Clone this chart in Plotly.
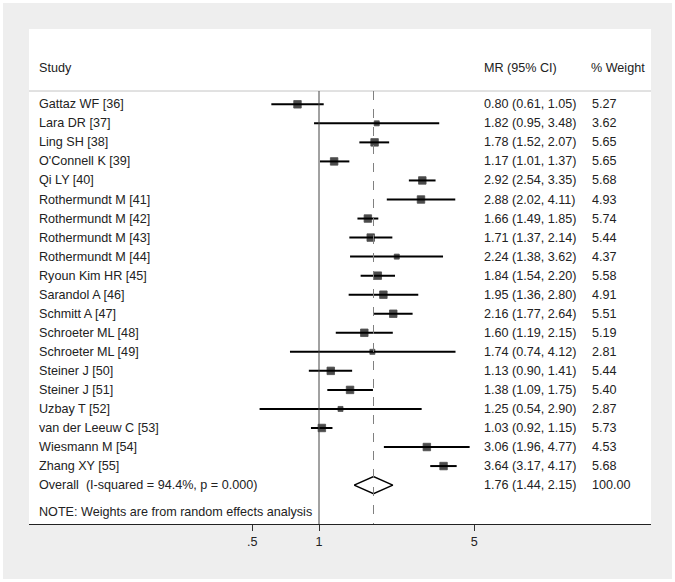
import plotly.graph_objects as go

studies = ["Gattaz WF [36]", "Lara DR [37]", "Ling SH [38]", "O'Connell K [39]", "Qi LY [40]",
           "Rothermundt M [41]", "Rothermundt M [42]", "Rothermundt M [43]", "Rothermundt M [44]",
           "Ryoun Kim HR [45]", "Sarandol A [46]", "Schmitt A [47]", "Schroeter ML [48]",
           "Schroeter ML [49]", "Steiner J [50]", "Steiner J [51]", "Uzbay T [52]",
           "van der Leeuw C [53]", "Wiesmann M [54]", "Zhang XY [55]"]
mr = [0.80, 1.82, 1.78, 1.17, 2.92, 2.88, 1.66, 1.71, 2.24, 1.84, 1.95, 2.16, 1.60, 1.74, 1.13, 1.38, 1.25, 1.03, 3.06, 3.64]
lo = [0.61, 0.95, 1.52, 1.01, 2.54, 2.02, 1.49, 1.37, 1.38, 1.54, 1.36, 1.77, 1.19, 0.74, 0.90, 1.09, 0.54, 0.92, 1.96, 3.17]
hi = [1.05, 3.48, 2.07, 1.37, 3.35, 4.11, 1.85, 2.14, 3.62, 2.20, 2.80, 2.64, 2.15, 4.12, 1.41, 1.75, 2.90, 1.15, 4.77, 4.17]
weights = [5.27, 3.62, 5.65, 5.65, 5.68, 4.93, 5.74, 5.44, 4.37, 5.58, 4.91, 5.51, 5.19, 2.81, 5.44, 5.40, 2.87, 5.73, 4.53, 5.68]

overall_label = "Overall\u00a0\u00a0(I-squared = 94.4%, p = 0.000)"
overall_mr, overall_lo, overall_hi, overall_w = 1.76, 1.44, 2.15, 100.00
note = "NOTE: Weights are from random effects analysis"
tick_vals = [0.5, 1, 5]
tick_text = [".5", "1", "5"]

FONT = "Arial, Liberation Sans, sans-serif"
FS = 12.6
TXT = "#222222"
W, H = 675, 582
L, R, T, B = 29, 24, 29, 58
PW, PH = W - L - R, H - T - B

def px_x(px):
    return (px - L) / PW

row0_px, row_step = 104.3, 19.04
def row_from_px(py):
    return (py - row0_px) / row_step

y_top = row_from_px(T)
y_bot = row_from_px(H - B)
n = len(studies)
rows = list(range(n))
overall_row = n
note_row = row_from_px(512)
header_row = row_from_px(68)
header_line = row_from_px(91)

fig = go.Figure()

xs, ys = [], []
for i in rows:
    xs += [lo[i], hi[i], None]
    ys += [i, i, None]
fig.add_trace(go.Scatter(x=xs, y=ys, mode="lines", line=dict(color="black", width=2),
                         hoverinfo="skip", showlegend=False))

sizes = [7.5 if w >= 4.5 else 5 for w in weights]
fig.add_trace(go.Scatter(x=mr, y=rows, mode="markers",
                         marker=dict(symbol="square", size=sizes, color="black",
                                     line=dict(width=0.8, color="black")),
                         showlegend=False))

dh = 0.45
fig.add_trace(go.Scatter(x=[overall_lo, overall_mr, overall_hi, overall_mr, overall_lo],
                         y=[overall_row, overall_row - dh, overall_row, overall_row + dh, overall_row],
                         mode="lines", fill="toself", fillcolor="white",
                         line=dict(color="black", width=1.5), showlegend=False))

shapes = []
shapes.append(dict(type="line", xref="paper", yref="y", x0=0, x1=1, y0=header_line, y1=header_line,
                   line=dict(color="#c4c4c4", width=1)))
shapes.append(dict(type="line", xref="x", yref="y", x0=1, x1=1, y0=header_line, y1=y_bot,
                   line=dict(color="#444444", width=1)))
shapes.append(dict(type="line", xref="x", yref="y", x0=overall_mr, x1=overall_mr, y0=header_line, y1=y_bot,
                   line=dict(color="#808080", width=1, dash="dash")))
shapes.append(dict(type="rect", xref="paper", yref="paper",
                   x0=-L / PW, x1=(W - L) / PW, y0=-B / PH, y1=(H - B) / PH,
                   line=dict(color="white", width=6), fillcolor="rgba(0,0,0,0)", layer="above"))

ann = []
def add_text(x, y, text):
    ann.append(dict(x=x, y=y, xref="paper", yref="y", text=text, showarrow=False,
                    xanchor="left", yanchor="middle", font=dict(family=FONT, size=FS, color=TXT)))

add_text(px_x(37), header_row, "Study")
add_text(px_x(482), header_row, "MR (95% CI)")
add_text(px_x(589), header_row, "% Weight")
for i in rows:
    add_text(px_x(37), i, studies[i])
    add_text(px_x(482), i, f"{mr[i]:.2f} ({lo[i]:.2f}, {hi[i]:.2f})")
    add_text(px_x(590), i, f"{weights[i]:.2f}")
add_text(px_x(37), overall_row, overall_label)
add_text(px_x(482), overall_row, f"{overall_mr:.2f} ({overall_lo:.2f}, {overall_hi:.2f})")
add_text(px_x(590), overall_row, f"{overall_w:.2f}")
add_text(px_x(37), note_row, note)

ppd = 222.0
x_left = (L - 319) / ppd
x_right = (W - R - 319) / ppd

fig.update_layout(
    width=W, height=H,
    margin=dict(l=L, r=R, t=T, b=B),
    paper_bgcolor="#eeeeee", plot_bgcolor="white",
    showlegend=False, shapes=shapes, annotations=ann,
    xaxis=dict(type="log", range=[x_left, x_right], tickvals=tick_vals, ticktext=tick_text,
               ticks="outside", ticklen=6, tickcolor="#333333", showline=True, linecolor="#222222",
               linewidth=1, showgrid=False, zeroline=False, fixedrange=True,
               tickfont=dict(family=FONT, size=FS, color=TXT)),
    yaxis=dict(range=[y_bot, y_top], visible=False, showgrid=False, zeroline=False, fixedrange=True),
)

fig.write_html("out.html", config={"displayModeBar": False},
               post_script="document.body.style.margin='0';document.body.style.padding='0';")
